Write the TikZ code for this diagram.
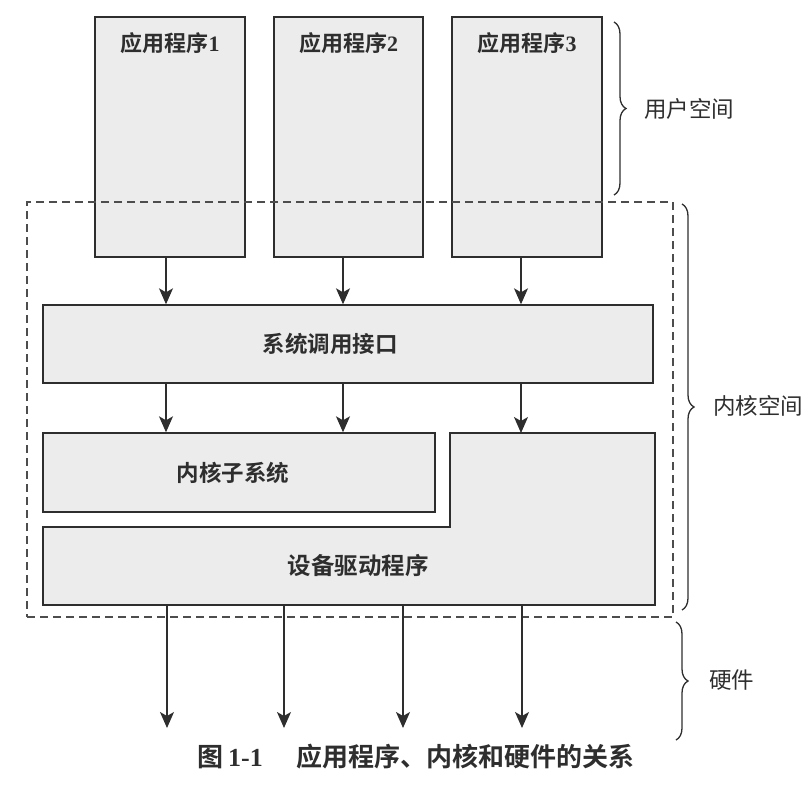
\documentclass[tikz,border=0pt]{standalone}
\usepackage{fontspec}
\newfontfamily\cjk{Noto Sans CJK SC}
\newfontfamily\cjkb{Noto Sans CJK SC}[BoldFont={* Bold}]
\newfontfamily\lat{Liberation Serif}
\usetikzlibrary{arrows.meta,decorations.pathreplacing,calc}
\definecolor{boxfill}{HTML}{ECECEC}
\definecolor{ink}{HTML}{2E2E2E}
\tikzset{
  boxst/.style={draw=ink, line width=1.4pt, fill=boxfill, inner sep=0pt},
  arr/.style={draw=ink, line width=1.3pt, -{Stealth[length=16pt,width=14pt,inset=4pt]}},
  lbl/.style={font=\fontsize{22.5}{24}\selectfont\cjkb\bfseries, text=ink, inner sep=0pt},
  applbl/.style={font=\fontsize{22}{24}\selectfont\cjkb\bfseries, text=ink, inner sep=0pt},
  side/.style={font=\fontsize{22.5}{24}\selectfont\cjk, text=ink, inner sep=0pt, anchor=west},
  brc/.style={draw=ink, line width=1.3pt, decorate, decoration={brace, amplitude=12pt}},
  dash box/.style={draw=ink!85, line width=1.3pt, dash pattern=on 8pt off 5pt, inner sep=0pt}
}
\begin{document}
\begin{tikzpicture}[x=1pt,y=-1pt]
\useasboundingbox (0,0) rectangle (809,785);
% application boxes
\node[boxst, minimum width=150pt, minimum height=240pt] (app1) at (170,137) {};
\node[boxst, minimum width=149pt, minimum height=240pt] (app2) at (348.5,137) {};
\node[boxst, minimum width=150pt, minimum height=240pt] (app3) at (527,137) {};
\node[applbl] (t1) at ($(app1.north)+(0,27)$) {应用程序{\lat\bfseries 1}};
\node[applbl] (t2) at ($(app2.north)+(0,27)$) {应用程序{\lat\bfseries 2}};
\node[applbl] (t3) at ($(app3.north)+(0,27)$) {应用程序{\lat\bfseries 3}};
% kernel space dashed region
\node[dash box, minimum width=646pt, minimum height=415pt] (kspace) at (350,409.5) {};
% system call interface
\node[boxst, minimum width=610pt, minimum height=78pt] (sys) at (348,344) {};
\node[lbl] (tsys) at ($(sys.center)+(-18,0)$) {系统调用接口};
% kernel subsystem
\node[boxst, minimum width=392pt, minimum height=79pt] (ksub) at (239,472.5) {};
\node[lbl] (tksub) at ($(ksub.center)+(-6,0)$) {内核子系统};
% device drivers (L shape)
\draw[boxst] (43,527) -- (450,527) -- (450,433) -- (655,433) -- (655,605) -- (43,605) -- cycle;
\coordinate (drvtop) at (655,433);
\coordinate (drvbot) at (43,605);
\node[lbl, font=\fontsize{23.5}{25}\selectfont\cjkb\bfseries] (tdrv) at (358,566) {设备驱动程序};
% arrow columns
\coordinate (c1) at (166,0);
\coordinate (c2) at (343,0);
\coordinate (c3) at (521,0);
\coordinate (h1) at (167,0);
\coordinate (h2) at (284,0);
\coordinate (h3) at (403,0);
\coordinate (h4) at (522,0);
\coordinate (hwend) at (0,728);
% app -> syscall
\draw[arr] (app1.south -| c1) -- (sys.north -| c1);
\draw[arr] (app2.south -| c2) -- (sys.north -| c2);
\draw[arr] (app3.south -| c3) -- (sys.north -| c3);
% syscall -> kernel
\draw[arr] (sys.south -| c1) -- (ksub.north -| c1);
\draw[arr] (sys.south -| c2) -- (ksub.north -| c2);
\draw[arr] (sys.south -| c3) -- (drvtop -| c3);
% drivers -> hardware
\draw[arr] (drvbot -| h1) -- (hwend -| h1);
\draw[arr] (drvbot -| h2) -- (hwend -| h2);
\draw[arr] (drvbot -| h3) -- (hwend -| h3);
\draw[arr] (drvbot -| h4) -- (hwend -| h4);
% braces
\coordinate (ub1) at (614,22);
\coordinate (ub2) at (614,195);
\draw[brc] (ub1) -- (ub2);
\node[side] (us) at (644,109) {用户空间};
\coordinate (kb1) at (682,204);
\coordinate (kb2) at (682,610);
\draw[brc] (kb1) -- (kb2);
\node[side] (ks) at (713,406) {内核空间};
\coordinate (hb1) at (676,622);
\coordinate (hb2) at (676,740);
\draw[brc] (hb1) -- (hb2);
\node[side] (hw) at (709,680) {硬件};
% caption
\node[font=\fontsize{26}{28}\selectfont\cjkb\bfseries, text=ink, inner sep=0pt, anchor=west] (cap) at (197,757) {图\hspace{5pt}{\lat\bfseries 1-1}\hspace{34pt}应用程序、内核和硬件的关系};
\end{tikzpicture}
\end{document}
